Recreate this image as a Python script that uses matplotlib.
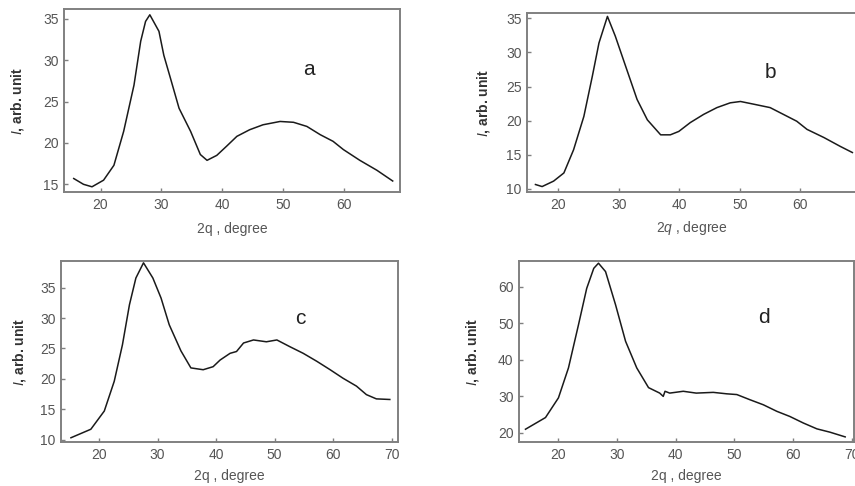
import matplotlib
matplotlib.use("Agg")
import matplotlib.pyplot as plt

plt.rcParams['font.family'] = ['Liberation Sans', 'DejaVu Sans']
plt.rcParams['mathtext.fontset'] = 'custom'
plt.rcParams['mathtext.it'] = 'Liberation Sans:italic'
plt.rcParams['mathtext.rm'] = 'Liberation Sans'

# panel a
a_x = [15.6, 17.2, 18.6, 20.5, 22.2, 23.8, 25.5, 26.6, 27.4, 28.1, 29.6, 30.4, 31.5,
       32.9, 34.8, 36.4, 37.5, 39.1, 40.7, 42.4, 44.5, 46.7, 49.5, 51.7,
       53.9, 56.1, 58.2, 59.9, 62.6, 65.4, 68.0]
a_y = [15.7, 15.0, 14.7, 15.5, 17.3, 21.4, 27.0, 32.3, 34.7, 35.5, 33.5, 30.6, 27.8,
       24.2, 21.4, 18.6, 17.9, 18.5, 19.6, 20.8, 21.6, 22.2, 22.6, 22.5,
       22.0, 21.0, 20.2, 19.2, 17.9, 16.7, 15.4]

# panel b
b_x = [16.2, 17.3, 19.2, 20.9, 22.5, 24.2, 25.6, 26.7, 28.1, 29.4, 31.1, 33.0, 34.7,
       36.9, 38.5, 39.9, 41.8, 44.0, 46.2, 48.4, 50.1, 52.3, 55.0,
       57.2, 59.4, 61.1, 63.9, 66.6, 68.6]
b_y = [10.6, 10.3, 11.1, 12.3, 15.7, 20.6, 26.5, 31.4, 35.3, 32.4, 28.0, 23.1, 20.1,
       17.9, 17.9, 18.4, 19.7, 20.9, 21.9, 22.6, 22.8, 22.4, 21.9,
       20.9, 19.9, 18.7, 17.5, 16.2, 15.3]

# panel c
c_x = [15.2, 18.6, 20.9, 22.6, 24.0, 25.2, 26.3, 27.6, 29.2, 30.6, 32.0, 34.0, 35.7,
       37.8, 39.5, 40.7, 42.4, 43.5, 44.7, 46.4, 48.6,
       50.4, 52.6, 54.9, 57.2, 59.5, 61.7, 64.0, 65.7, 67.4, 69.7]
c_y = [10.3, 11.7, 14.7, 19.6, 25.6, 32.2, 36.6, 39.1, 36.6, 33.3, 28.9, 24.6, 21.8,
       21.5, 22.0, 23.1, 24.2, 24.5, 25.9, 26.4, 26.1,
       26.4, 25.3, 24.2, 22.9, 21.5, 20.1, 18.8, 17.4, 16.7, 16.6]

# panel d
d_x = [14.5, 17.9, 20.1, 21.8, 23.5, 24.9, 26.1, 26.9, 28.1, 29.8, 31.5, 33.4, 35.4,
       37.3, 37.9, 38.2, 39.0, 41.3, 43.5, 46.4,
       48.7, 50.4, 52.6, 54.9, 57.2, 59.4, 61.7, 64.0, 66.2, 68.8]
d_y = [21.0, 24.2, 29.6, 37.8, 49.6, 59.6, 65.1, 66.5, 64.2, 55.1, 45.1, 37.8, 32.4,
       30.9, 30.0, 31.4, 30.9, 31.4, 30.9, 31.1,
       30.7, 30.5, 29.1, 27.7, 25.9, 24.5, 22.7, 21.1, 20.2, 18.9]

W, H = 855, 486


def px_axes(fig, left, top, right, bottom):
    return fig.add_axes([left / W, 1 - bottom / H, (right - left) / W, (bottom - top) / H])


fig = plt.figure(figsize=(8.55, 4.86), dpi=100)

panels = [
    # data, box(l,t,r,b), xlim, ylim, xticks, yticks, letter, letter pos, ylabel x, xlabel y, xlabel text
    (a_x, a_y, (64, 9, 400, 192), (14.0, 69.2), (14.07, 36.2),
     [20, 30, 40, 50, 60], [15, 20, 25, 30, 35], 'a', (0.73, 0.67), -0.137, -0.20, '2q , degree'),
    (b_x, b_y, (527, 13, 856, 192), (14.8, 69.2), (9.5, 35.8),
     [20, 30, 40, 50, 60], [10, 15, 20, 25, 30, 35], 'b', (0.74, 0.67), -0.133, -0.20, '$2q$ , degree'),
    (c_x, c_y, (61, 261, 398, 442), (13.5, 71.1), (9.6, 39.4),
     [20, 30, 40, 50, 60, 70], [10, 15, 20, 25, 30, 35], 'c', (0.71, 0.68), -0.122, -0.19, '2q , degree'),
    (d_x, d_y, (519, 261, 854, 442), (13.4, 70.3), (17.5, 67.1),
     [20, 30, 40, 50, 60, 70], [20, 30, 40, 50, 60], 'd', (0.73, 0.69), -0.139, -0.19, '2q , degree'),
]

for (xs, ys, box, xl, yl, xt, yt, letter, lpos, ylx, xly, xlab) in panels:
    ax = px_axes(fig, *box)
    ax.plot(xs, ys, color='#1a1a1a', lw=1.1)
    ax.set_xlim(*xl)
    ax.set_ylim(*yl)
    ax.set_xticks(xt)
    ax.set_yticks(yt)
    for s in ax.spines.values():
        s.set_color('#808080')
        s.set_linewidth(1.4)
    ax.tick_params(direction='in', length=3, width=1, color='#808080',
                   labelsize=10, labelcolor='#555555', pad=4)
    ax.set_xlabel(xlab, fontsize=10, color='#555555', va='center')
    ax.xaxis.set_label_coords(0.5, xly)
    ax.set_ylabel('$I$, arb. unit', fontsize=10, fontweight='bold', color='#333333', va='center')
    ax.yaxis.set_label_coords(ylx, 0.5)
    ax.text(lpos[0], lpos[1], letter, transform=ax.transAxes, fontsize=15,
            color='#222222', ha='center', va='center')

fig.savefig('out.png', dpi=100)
